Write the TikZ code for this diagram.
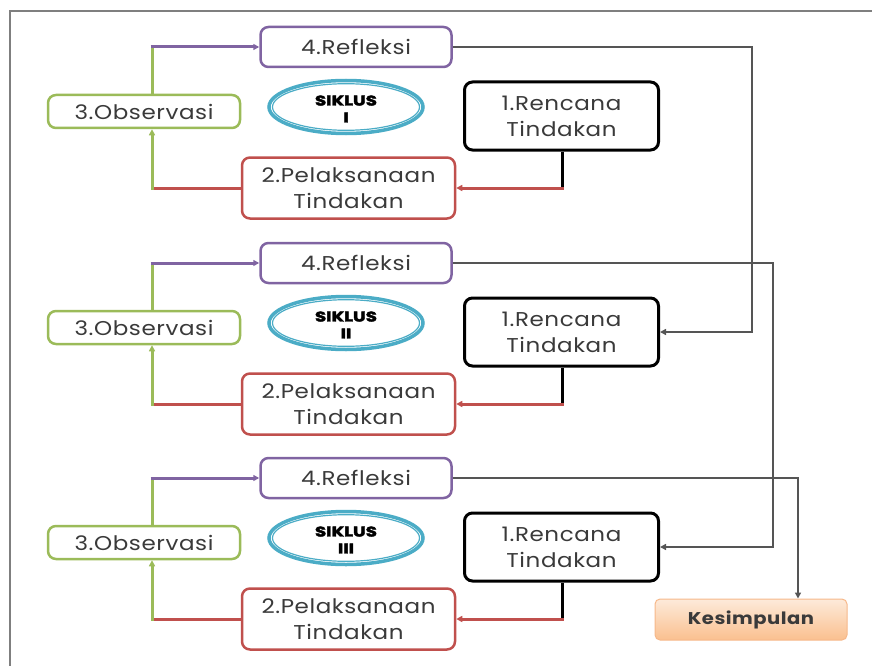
\documentclass[tikz,border=0pt]{standalone}
\usepackage{fontspec}
\setmainfont{Poppins}[FakeStretch=1.15, LetterSpace=3]
\newfontfamily\sikfont{Poppins}[FakeStretch=1.3, BoldFeatures={FakeBold=3}]
\usetikzlibrary{arrows.meta,shapes.geometric,calc}
\definecolor{cpur}{HTML}{8064A2}
\definecolor{cgrn}{HTML}{9BBB59}
\definecolor{cred}{HTML}{C0504D}
\definecolor{cblu}{HTML}{4BACC6}
\definecolor{ctxt}{HTML}{3A3A3A}
\definecolor{corgA}{HTML}{FDEADA}
\definecolor{corgB}{HTML}{FAC08F}
\definecolor{corgL}{HTML}{F6B88A}
\definecolor{cline}{HTML}{555555}
\definecolor{cframe}{HTML}{7F7F7F}
\begin{document}
\begin{tikzpicture}[x=1pt,y=-1pt,
  box/.style={draw, rounded corners=8pt, line width=2.5pt, align=center, inner sep=0pt,
    text=ctxt, font=\fontsize{20}{26}\selectfont, fill=white},
  refbox/.style={box, draw=cpur, minimum width=191pt, minimum height=40pt},
  obsbox/.style={box, draw=cgrn, minimum width=192pt, minimum height=33pt},
  pelbox/.style={box, draw=cred, minimum width=213pt, minimum height=61pt},
  renbox/.style={box, draw=black, line width=3pt, minimum width=194pt, minimum height=68pt},
  sik/.style={ellipse, draw=cblu, line width=3.5pt,
    minimum width=154pt, minimum height=53pt, inner sep=0pt},
  siktext/.style={align=center, inner sep=0pt, text=black,
    font=\sikfont\bfseries\fontsize{14}{17}\selectfont},
  kesbox/.style={draw=corgL, line width=1pt, rounded corners=5pt, top color=corgA, bottom color=corgB,
    minimum width=192pt, minimum height=41pt, inner sep=0pt, text=ctxt,
    font=\bfseries\fontsize{17}{18}\selectfont},
  tip/.style={-{Triangle[length=6pt,width=6pt]}},
  cl/.style={line width=3pt},
  gl/.style={draw=cline, line width=1.5pt, -{Triangle[length=6pt,width=6pt]}},
]
\useasboundingbox (0,0) rectangle (872,666);
\draw[cframe, line width=1.5pt] (10,666) -- (10,11) -- (872,11);

\foreach \i/\dy/\rom in {1/0/I, 2/216/II, 3/431/III}{
  \node[refbox] (ref\i) at (356,47+\dy) {4.Refleksi};
  \node[obsbox] (obs\i) at (144,111.5+\dy) {3.Observasi};
  \node[sik]    (sik\i) at (346,107+\dy) {};
  \draw[cblu, line width=1.2pt] (sik\i.center) ellipse (73.5pt and 23.3pt);
  \node[siktext] (st\i) at (346,109+\dy) {SIKLUS\\\rom};
  \node[renbox] (ren\i) at (561.5,116+\dy) {1.Rencana\\Tindakan};
  \node[pelbox] (pel\i) at (348.5,188+\dy) {2.Pelaksanaan\\Tindakan};
  \coordinate (a\i) at ([xshift=0.5pt]ren\i.south |- pel\i.east);
  \coordinate (b\i) at ([xshift=8pt]obs\i.south |- pel\i.west);
  \coordinate (c\i) at ([xshift=8pt]obs\i.north |- ref\i.west);
  \draw[cl, black] ([xshift=0.5pt]ren\i.south) -- ([yshift=-1.5pt]a\i);
  \draw[cl, cred, tip] ([xshift=1.5pt]a\i) -- (pel\i.east);
  \draw[cl, cred] (pel\i.west) -- ([xshift=-1.5pt]b\i);
  \draw[cl, cgrn, tip] ([yshift=-1.5pt]b\i) -- ([xshift=8pt]obs\i.south);
  \draw[cl, cgrn] ([xshift=8pt]obs\i.north) -- ([yshift=1.5pt]c\i);
  \draw[cl, cpur, tip] ([xshift=-1.5pt]c\i) -- (ref\i.west);
}

\node[kesbox] (kes) at (751,619.5) {Kesimpulan};

\coordinate (v1) at (752,0);
\coordinate (v2) at (773,0);
\coordinate (v3) at (798,0);
\draw[gl] (ref1.east) -| (v1 |- ren2.east) -- (ren2.east);
\draw[gl] (ref2.east) -| (v2 |- ren3.east) -- (ren3.east);
\draw[gl] (ref3.east) -| (v3 |- kes.north);
\end{tikzpicture}
\end{document}
